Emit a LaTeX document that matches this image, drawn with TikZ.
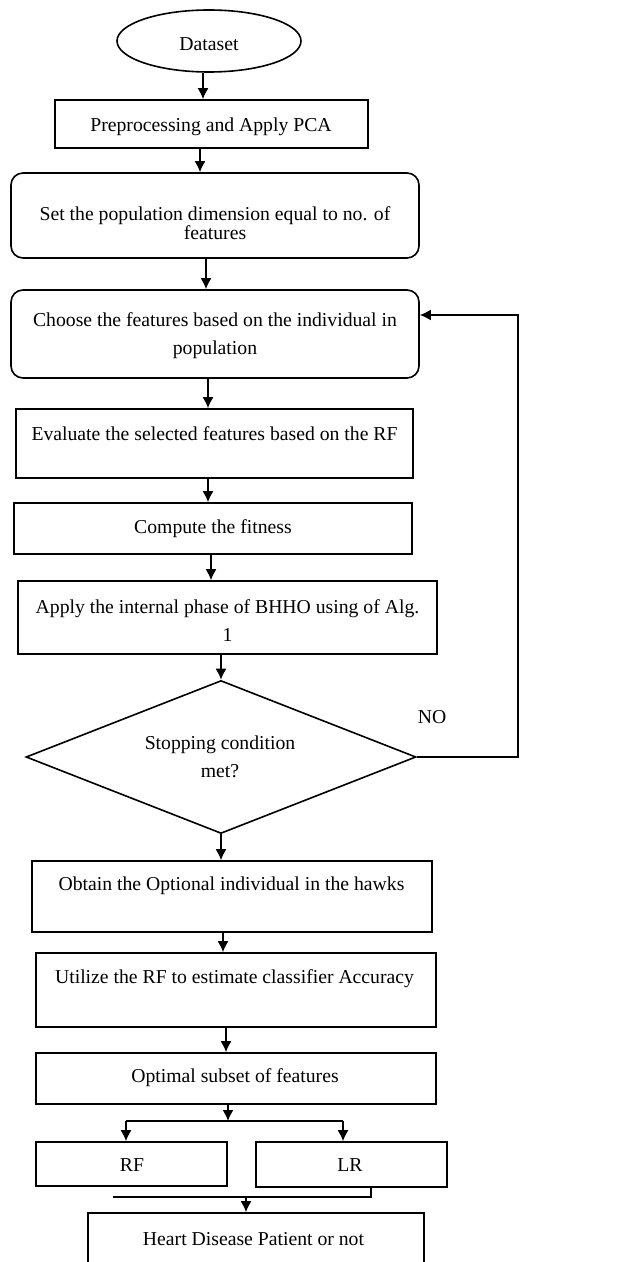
\documentclass[tikz,border=0pt]{standalone}
\usepackage{fontspec}
\setmainfont{Liberation Serif}
\usetikzlibrary{shapes.geometric,arrows.meta}
\begin{document}
\begin{tikzpicture}[x=0.5pt,y=-0.5pt,
  every node/.style={font=\fontsize{9.85}{14}\selectfont},
  box/.style={draw, line width=0.8pt, inner sep=0pt},
  rbox/.style={box, rounded corners=6pt},
  lbl/.style={inner sep=0pt, align=center},
  arr/.style={line width=0.8pt, -{Latex[length=5.5pt,width=5.5pt]}},
  conn/.style={line width=0.8pt}]
\useasboundingbox (0,0) rectangle (627,1262);
\clip (0,0) rectangle (627,1262);
% boxes
\node[box, ellipse, minimum width=92pt, minimum height=31pt] (ds) at (209,41) {};
\node[lbl] (tds) at (209,44) {Dataset};
\node[box, minimum width=156.5pt, minimum height=24pt] (prep) at (211.5,124) {};
\node[lbl] (tprep) at (211,127) {Preprocessing and Apply PCA};
\node[rbox, minimum width=204pt, minimum height=42.5pt] (set) at (215,215.5) {};
\node[lbl] (tset) at (215,223) {Set the population dimension equal to no. of\\[-4.5pt] features};
\node[rbox, minimum width=204pt, minimum height=44pt] (cho) at (215,334) {};
\node[lbl] (tcho) at (215,336) {Choose the features based on the individual in\\population};
\node[box, minimum width=198.5pt, minimum height=34.5pt] (eva) at (214.5,443.5) {};
\node[lbl] (teva) at (214.5,434) {Evaluate the selected features based on the RF};
\node[box, minimum width=199pt, minimum height=25.5pt] (com) at (213,528.5) {};
\node[lbl] (tcom) at (213,529) {Compute the fitness};
\node[box, minimum width=209.5pt, minimum height=36.5pt] (app) at (227.5,617.5) {};
\node[lbl] (tapp) at (227.5,621) {Apply the internal phase of BHHO using of Alg.\\1};
\node[box, diamond, minimum width=195pt, minimum height=76.5pt] (dia) at (221,757) {};
\node[lbl] (tdia) at (220,757) {Stopping condition\\met?};
\node[lbl] (no) at (432,717) {NO};
\node[box, minimum width=200pt, minimum height=35.5pt] (obt) at (232,896.5) {};
\node[lbl] (tobt) at (231.5,886) {Obtain the Optional individual in the hawks};
\node[box, minimum width=200pt, minimum height=37pt] (uti) at (236,990) {};
\node[lbl] (tuti) at (234.5,979) {Utilize the RF to estimate classifier Accuracy};
\node[box, minimum width=200pt, minimum height=25.5pt] (opt) at (236,1078.5) {};
\node[lbl] (topt) at (235,1078) {Optimal subset of features};
\node[box, minimum width=95.5pt, minimum height=22pt] (rf) at (131.5,1164) {};
\node[lbl] (trf) at (132,1165) {RF};
\node[box, minimum width=95.5pt, minimum height=22.5pt] (lr) at (351.5,1164.5) {};
\node[lbl] (tlr) at (350,1165) {LR};
\node[box, minimum width=168pt, minimum height=31pt] (hea) at (256,1244) {};
\node[lbl] (thea) at (253.5,1239) {Heart Disease Patient or not};
% coordinates for arrow columns
\coordinate (ax1) at (203,0);
\coordinate (ax2) at (200,0);
\coordinate (ax3) at (206,0);
\coordinate (ax4) at (208,0);
\coordinate (ax6) at (211,0);
\coordinate (ax9) at (223,0);
\coordinate (ax10) at (226,0);
\coordinate (j1) at (228,1121);
\coordinate (jl) at (126,1121);
\coordinate (jr) at (343,1121);
\coordinate (k1) at (113,1197);
\coordinate (k2) at (371,1197);
\coordinate (k3) at (246,1197);
\coordinate (fb) at (518,315);
% connectors
\draw[arr] (ds.south -| ax1) -- (prep.north -| ax1);
\draw[arr] (prep.south -| ax2) -- (set.north -| ax2);
\draw[arr] (set.south -| ax3) -- (cho.north -| ax3);
\draw[arr] (cho.south -| ax4) -- (eva.north -| ax4);
\draw[arr] (eva.south -| ax4) -- (com.north -| ax4);
\draw[arr] (com.south -| ax6) -- (app.north -| ax6);
\draw[arr] (app.south -| dia.north) -- (dia.north);
\draw[arr] (dia.south) -- (obt.north -| dia.south);
\draw[arr] (obt.south -| ax9) -- (uti.north -| ax9);
\draw[arr] (uti.south -| ax10) -- (opt.north -| ax10);
\draw[arr] (opt.south -| j1) -- (j1);
\draw[conn] (jl) -- (jr);
\draw[arr] (jl) -- (rf.north -| jl);
\draw[arr] (jr) -- (lr.north -| jr);
\draw[conn] (lr.south -| k2) -- (k2) -- (k1);
\draw[arr] (k3) -- (hea.north -| k3);
\draw[arr] (dia.east) -| (fb) -- (cho.east |- fb);
\end{tikzpicture}
\end{document}
